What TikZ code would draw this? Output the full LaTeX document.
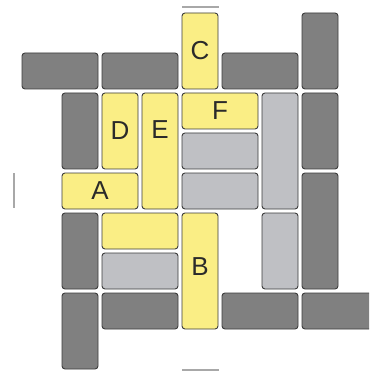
\documentclass[tikz,border=0pt]{standalone}
\usepackage{fontspec}
\setmainfont{Liberation Sans}
\definecolor{dk}{HTML}{808080}
\definecolor{lt}{HTML}{BFC0C4}
\definecolor{yl}{HTML}{FAEE85}
\definecolor{bd}{HTML}{3C3C3C}
\definecolor{mk}{HTML}{A8A8A8}
\definecolor{tx}{HTML}{2A2A2A}
\tikzset{
  lbl/.style={text=tx, font=\fontsize{26}{26}\selectfont, inner sep=0pt},
  blk/.style={draw=bd, line width=0.9pt, rounded corners=3pt, inner sep=0pt, outer sep=0pt,
    anchor=north west, lbl},
  darkblk/.style={blk, fill=dk},
  lightblk/.style={blk, fill=lt},
  yellowblk/.style={blk, fill=yl},
  marker/.style={draw=mk, line width=1.6pt}
}
% name, style, col, row, w, h, label
\newcommand{\blk}[7]{%
  \node[#2, minimum width={40*#5-4}, minimum height={40*#6-4}] (#1) at ({20+40*#3+2},{11+40*#4+2}) {#7};}
\begin{document}
\begin{tikzpicture}[x=1pt,y=-1pt]
\clip (0,0) rectangle (369,371);
\fill[white] (0,0) rectangle (369,371);
\blk{d1}{darkblk}{0}{1}{2}{1}{}
\blk{d2}{darkblk}{2}{1}{2}{1}{}
\blk{C}{yellowblk}{4}{0}{1}{2}{C}
\blk{d3}{darkblk}{5}{1}{2}{1}{}
\blk{d4}{darkblk}{7}{0}{1}{2}{}
\blk{d5}{darkblk}{1}{2}{1}{2}{}
\blk{D}{yellowblk}{2}{2}{1}{2}{D}
\blk{E}{yellowblk}{3}{2}{1}{3}{}
\node[lbl] (Etext) at ([yshift=-37pt]E.north) {E};
\blk{F}{yellowblk}{4}{2}{2}{1}{F}
\blk{l1}{lightblk}{4}{3}{2}{1}{}
\blk{l2}{lightblk}{6}{2}{1}{3}{}
\blk{d6}{darkblk}{7}{2}{1}{2}{}
\blk{A}{yellowblk}{1}{4}{2}{1}{A}
\blk{l3}{lightblk}{4}{4}{2}{1}{}
\blk{d7}{darkblk}{7}{4}{1}{3}{}
\blk{d8}{darkblk}{1}{5}{1}{2}{}
\blk{y1}{yellowblk}{2}{5}{2}{1}{}
\blk{l4}{lightblk}{2}{6}{2}{1}{}
\blk{B}{yellowblk}{4}{5}{1}{3}{}
\node[lbl] (Btext) at ([yshift=-54pt]B.north) {B};
\blk{l5}{lightblk}{6}{5}{1}{2}{}
\blk{d9}{darkblk}{1}{7}{1}{2}{}
\blk{d10}{darkblk}{2}{7}{2}{1}{}
\blk{d11}{darkblk}{5}{7}{2}{1}{}
\blk{d12}{darkblk}{7}{7}{2}{1}{}
\coordinate (m1a) at (14,173); \coordinate (m1b) at (14,208);
\coordinate (m2a) at (182,7); \coordinate (m2b) at (219,7);
\coordinate (m3a) at (182,370); \coordinate (m3b) at (219,370);
\draw[marker] (m1a) -- (m1b);
\draw[marker] (m2a) -- (m2b);
\draw[marker] (m3a) -- (m3b);
\end{tikzpicture}
\end{document}
